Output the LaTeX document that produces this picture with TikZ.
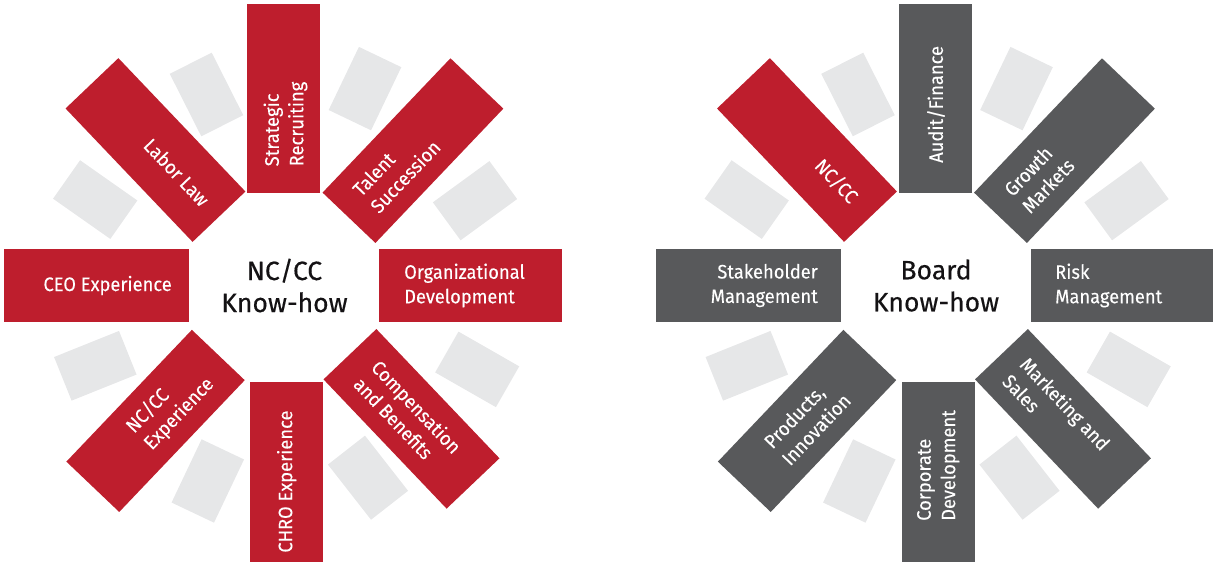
\documentclass[tikz,border=0pt]{standalone}
\usepackage{fontspec}
\usetikzlibrary{calc}
\newfontfamily\barfont{Fira Sans}[FakeStretch=0.94, FakeBold=0.12]
\newfontfamily\hubfont{Fira Sans}[FakeStretch=1.0, FakeBold=0.35]
\definecolor{barred}{RGB}{190,30,45}
\definecolor{bargray}{RGB}{88,89,91}
\definecolor{cardgray}{RGB}{230,231,232}
\definecolor{hubtext}{RGB}{20,18,20}

\tikzset{
  bar/.style={rectangle, minimum height=73pt, inner sep=0pt, outer sep=0pt, draw=none},
  redbar/.style={bar, fill=barred},
  graybar/.style={bar, fill=bargray},
  card/.style={rectangle, fill=cardgray, minimum width=70pt, minimum height=47pt, inner sep=0pt, draw=none},
  lbl/.style={text=white, inner sep=0pt, align=left, font={\barfont\fontsize{19.5}{24.5}\selectfont}},
  hub/.style={text=hubtext, inner sep=0pt, align=center, font={\hubfont\fontsize{26.5}{32}\selectfont}}
}

\begin{document}
\begin{tikzpicture}[x=1pt, y=1pt]
\useasboundingbox (0,0) rectangle (1213,567);

\coordinate (cl) at (284.5,281.5);
\coordinate (cr) at (936,281.5);

% background cards behind both wheels
\foreach \c in {cl,cr}{
  \foreach \n/\dx/\dy/\r in {A/-78/191/-63.2, B/-189.3/85.9/-35.1, C/80.5/196.9/64.4,
      D/190.5/84.8/36.1, E/-189.2/-80.3/21.9, F/-76.7/-195.5/64.6,
      G/83.5/-192.2/-52, H/192.7/-83.9/-29.75}{
    \node[card, rotate=\r] (card-\c-\n) at ($(\c)+(\dx,\dy)$) {};
  }
}

% ---------- NC/CC know-how wheel ----------
\node[redbar, minimum width=188.4pt, rotate=90]  (lT)  at ($(cl)+(90:187)+(-0.6,0)$) {};
\node[redbar, minimum width=185.5pt, rotate=46.4] (lTR) at ($(cl)+(46.4:186.25)$) {};
\node[redbar, minimum width=182.3pt]              (lR)  at ($(cl)+(0:185.9)$) {};
\node[redbar, minimum width=178.5pt, rotate=-46.4] (lBR) at ($(cl)+(-46.4:184.15)$) {};
\node[redbar, minimum width=180pt, rotate=90]    (lB)  at ($(cl)+(-90:186.5)+(2.2,0)$) {};
\node[redbar, minimum width=182pt, rotate=46.4]  (lBL) at ($(cl)+(226.4:187)$) {};
\node[redbar, minimum width=185.3pt]             (lL)  at ($(cl)+(180:187.85)$) {};
\node[redbar, minimum width=184.2pt, rotate=-46.4] (lTL) at ($(cl)+(133.6:187.1)$) {};

\node[lbl, anchor=west, rotate=90]    (tlT)  at ($(cl)+(90:119)+(1,0)$) {Strategic\\Recruiting};
\node[lbl, anchor=west, rotate=46.4]  (tlTR) at ($(cl)+(46.4:116.5)$) {Talent\\Succession};
\node[lbl, anchor=west]               (tlR)  at ($(cl)+(0:119.5)$) {Organizational\\Development};
\node[lbl, anchor=west, rotate=-46.4] (tlBR) at ($(cl)+(-46.4:119)$) {Compensation\\and Benefits};
\node[lbl, anchor=east, rotate=90]    (tlB)  at ($(cl)+(-90:124.8)+(2.2,0)$) {CHRO Experience};
\node[lbl, anchor=east, rotate=46.4]  (tlBL) at ($(cl)+(226.4:120)$) {NC/CC\\Experience};
\node[lbl, anchor=east, align=right]  (tlL)  at ($(cl)+(180:112.5)$) {CEO Experience};
\node[lbl, anchor=east, rotate=-46.4] (tlTL) at ($(cl)+(133.6:114)$) {Labor Law};

\node[hub] (hubL) at (cl) {NC/CC\\Know-how};

% ---------- Board know-how wheel ----------
\node[graybar, minimum width=188.4pt, rotate=90]  (rT)  at ($(cr)+(90:187)+(-0.6,0)$) {};
\node[graybar, minimum width=185.5pt, rotate=46.4] (rTR) at ($(cr)+(46.4:186.25)$) {};
\node[graybar, minimum width=182.3pt]              (rR)  at ($(cr)+(0:185.9)$) {};
\node[graybar, minimum width=178.5pt, rotate=-46.4] (rBR) at ($(cr)+(-46.4:184.15)$) {};
\node[graybar, minimum width=180pt, rotate=90]    (rB)  at ($(cr)+(-90:186.5)+(2.2,0)$) {};
\node[graybar, minimum width=182pt, rotate=46.4]  (rBL) at ($(cr)+(226.4:187)$) {};
\node[graybar, minimum width=185.3pt]             (rL)  at ($(cr)+(180:187.85)$) {};
\node[redbar, minimum width=184.2pt, rotate=-46.4] (rTL) at ($(cr)+(133.6:187.1)$) {};

\node[lbl, anchor=west, rotate=90]    (trT)  at ($(cr)+(90:122.5)$) {Audit/Finance};
\node[lbl, anchor=west, rotate=46.4]  (trTR) at ($(cr)+(46.4:116.5)$) {Growth\\Markets};
\node[lbl, anchor=west]               (trR)  at ($(cr)+(0:119)$) {Risk\\Management};
\node[lbl, anchor=west, rotate=-46.4] (trBR) at ($(cr)+(-46.4:115)$) {Marketing and\\Sales};
\node[lbl, anchor=east, rotate=90]    (trB)  at ($(cr)+(-90:124.5)+(2.2,0)$) {Corporate\\Development};
\node[lbl, anchor=east, rotate=46.4]  (trBL) at ($(cr)+(226.4:142)$) {Products,\\Innovation};
\node[lbl, anchor=east, align=right]  (trL)  at ($(cr)+(180:118)$) {Stakeholder\\Management};
\node[lbl, anchor=east, rotate=-46.4] (trTL) at ($(cr)+(133.6:118)$) {NC/CC};

\node[hub] (hubR) at (cr) {Board\\Know-how};
\end{tikzpicture}
\end{document}
